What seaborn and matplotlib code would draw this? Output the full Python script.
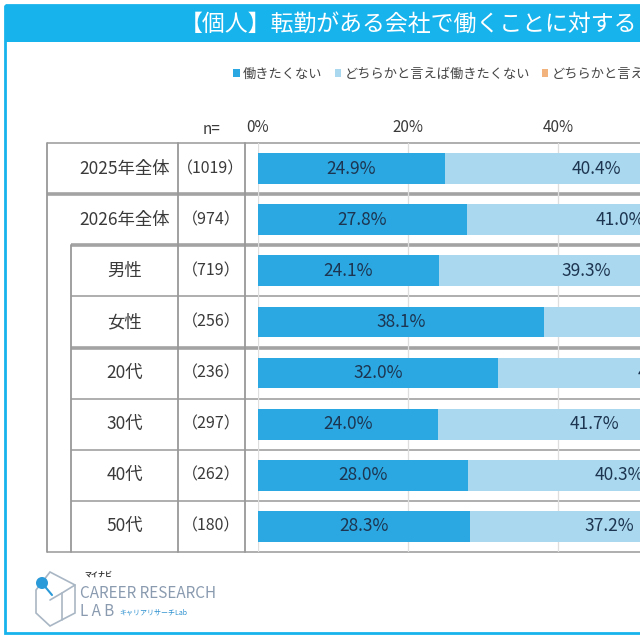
import matplotlib
matplotlib.use('Agg')
import matplotlib.pyplot as plt
from matplotlib.patches import Rectangle, Circle, Polygon, Patch
import pandas as pd
import seaborn as sns


title = '【個人】転勤がある会社で働くことに対する'
groups = ['2025年全体', '2026年全体', '男性', '女性', '20代', '30代', '40代', '50代']
n_labels = ['（1019）', '（974）', '（719）', '（256）', '（236）', '（297）', '（262）', '（180）']
series_names = ['働きたくない', 'どちらかと言えば働きたくない', 'どちらかと言えば働きたい']
not_want = [24.9, 27.8, 24.1, 38.1, 32.0, 24.0, 28.0, 28.3]
rather_not = [40.4, 41.0, 39.3, 45.8, 43.8, 41.7, 40.3, 37.2]
tick_vals = [0, 20, 40]
tick_labels = ['0%', '20%', '40%']

dark_blue = '#2ba8e2'
light_blue = '#aad8ee'
orange = '#f2b37c'
frame_cyan = '#17b3ec'
line_gray = '#a3a3a3'
text_col = '#3a3a3a'
value_col = '#1d3550'

sns.set_theme(style='white')
plt.rcParams['font.family'] = ['Noto Sans CJK JP', 'DejaVu Sans']

df = pd.DataFrame({'group': groups, 'not_want': not_want, 'rather_not': rather_not})
df['total'] = df['not_want'] + df['rather_not']

W = H = 640
fig = plt.figure(figsize=(6.4, 6.4), dpi=100)

# background canvas in pixel coordinates
bg = fig.add_axes([0, 0, 1, 1])
bg.set_xlim(0, W)
bg.set_ylim(H, 0)
bg.axis('off')

# frame + title bar
bg.add_patch(Rectangle((5, 5), 700, 628, fill=False, ec=frame_cyan, lw=2))
bg.add_patch(Rectangle((5, 5), 700, 37, fc=frame_cyan, ec='none'))
bg.text(180, 24, title, color='white', fontsize=16.5, ha='left', va='center')

# table geometry
top, bottom = 143, 552
pitch = (bottom - top) / len(groups)
x_out, x_in, x_n, x_end = 47, 71, 178, 245
bar_left = 258

bounds = [top + pitch * i for i in range(len(groups) + 1)]
for i, yb in enumerate(bounds):
    thick = i in (1, 2, 4)
    x0 = x_out if i in (0, 1, len(groups)) else x_in
    bg.plot([x0, W + 10], [yb, yb], color=line_gray if thick else '#999999',
            lw=2.6 if thick else 1.1, solid_capstyle='butt', zorder=1)
for xv, y0 in [(x_out, top), (x_in, bounds[2]), (x_n, top), (x_end, top)]:
    bg.plot([xv, xv], [y0, bottom], color='#999999', lw=1.3, zorder=1)

for i, (g, nl) in enumerate(zip(groups, n_labels)):
    yc = top + pitch * (i + 0.5)
    bg.text(124.5, yc, g, fontsize=12.5, color=text_col, ha='center', va='center')
    bg.text(211, yc, nl, fontsize=11.5, color=text_col, ha='center', va='center')
bg.text(212, 129, 'n=', fontsize=11, color=text_col, ha='center', va='center')

# logo
bg.add_patch(Polygon([(50, 572), (75, 585), (75, 613), (50, 626), (36, 613), (36, 590)],
                     closed=True, fill=False, ec='#a9b6c4', lw=1.2))
bg.plot([50, 62, 75], [600, 593, 585], color='#a9b6c4', lw=1.2)
bg.plot([62, 62], [593, 620], color='#a9b6c4', lw=1.2)
bg.plot([42, 52], [583, 595], color='#2a9ad8', lw=1.5)
bg.add_patch(Circle((42, 583), 6, fc='#2a9ad8', ec='none'))
bg.text(84, 574, 'マイナビ', fontsize=5, color='#333333', fontweight='bold', va='center')
bg.text(80, 593, 'CAREER RESEARCH', fontsize=11, color='#8a9bb0', va='center')
bg.text(80, 612, 'L A B', fontsize=11, color='#8a9bb0', va='center')
bg.text(119, 612, 'キャリアリサーチLab', fontsize=5, color='#2a8fcf', va='center')

# legend
handles = [Patch(fc=c, ec='none') for c in (dark_blue, light_blue, orange)]
fig.legend(handles, series_names, loc='center left', bbox_to_anchor=(228 / W, 1 - 74 / H),
           ncol=3, frameon=False, fontsize=9.5, handlelength=0.5, handleheight=0.5,
           handletextpad=0.25, columnspacing=0.9, labelcolor='#444444', borderaxespad=0)

# bars
ax = fig.add_axes([bar_left / W, 1 - bottom / H, (W - bar_left) / W, (bottom - top) / H])
ax.patch.set_alpha(0)
sns.barplot(data=df, y='group', x='total', order=groups, color=light_blue,
            saturation=1, width=0.6, orient='h', ax=ax, zorder=2)
sns.barplot(data=df, y='group', x='not_want', order=groups, color=dark_blue,
            saturation=1, width=0.6, orient='h', ax=ax, zorder=3)
for p in ax.patches:
    p.set_edgecolor('none')

x_max = (W - bar_left) / 7.5
ax.set_xlim(0, x_max)
ax.set_ylim(len(groups) - 0.5, -0.5)
ax.set_xticks(tick_vals)
ax.set_xticklabels(tick_labels)
ax.xaxis.tick_top()
ax.tick_params(axis='x', length=0, pad=5, labelsize=11, labelcolor=text_col)
ax.set_yticks([])
ax.set_xlabel('')
ax.set_ylabel('')
ax.grid(axis='x', color='#dedede', lw=0.9, zorder=0)
ax.set_axisbelow(True)
for s in ax.spines.values():
    s.set_visible(False)

for i, (a, b) in enumerate(zip(not_want, rather_not)):
    ax.text(a / 2, i, f'{a:.1f}%', ha='center', va='center', fontsize=12.5,
            color=value_col, zorder=4, clip_on=True)
    # labels whose segment centre lies far beyond the visible range are not in view
    if a + b / 2 < x_max + 3.5:
        ax.text(a + b / 2, i, f'{b:.1f}%', ha='center', va='center', fontsize=12.5,
                color=value_col, zorder=4, clip_on=True)

fig.savefig('out.png', dpi=100)
